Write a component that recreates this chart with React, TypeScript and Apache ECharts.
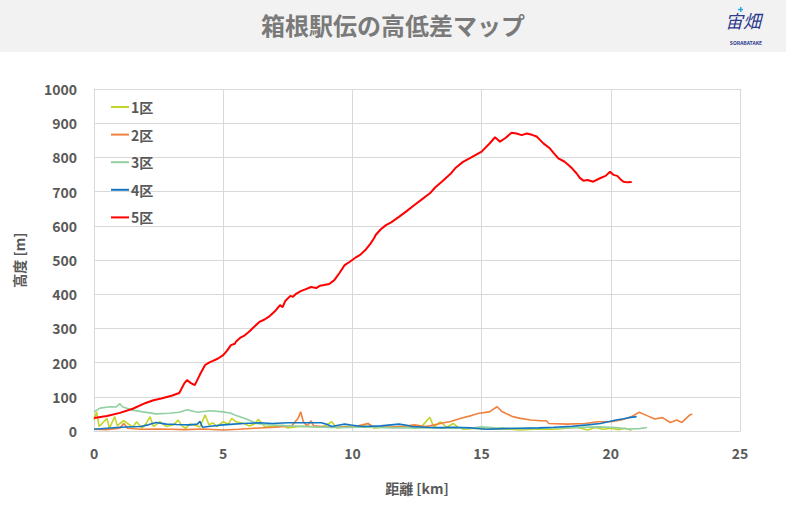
import React, { useEffect, useRef } from "react";
import * as echarts from "echarts";

const seriesNames = ["1区", "2区", "3区", "4区", "5区"];
const seriesColors = ["#c3d52b", "#f0813e", "#92d0a2", "#1275c4", "#ff0000"];

const xTicks = { min: 0, max: 25, interval: 5 };
const yTicks = { min: 0, max: 1000, interval: 100 };

const section1: number[][] = [
  [0, 32], [0.1, 56], [0.2, 13], [0.35, 25], [0.5, 37], [0.6, 8], [0.8, 42], [0.9, 15], [1.0, 22], [1.15, 30],
  [1.3, 22], [1.5, 12], [1.65, 27], [1.85, 8], [2.0, 20], [2.17, 42], [2.3, 13], [2.55, 27], [2.8, 13],
  [3.07, 18], [3.26, 32], [3.4, 15], [3.55, 8], [3.7, 20], [3.85, 18], [4.1, 12], [4.3, 47], [4.45, 18],
  [4.6, 24], [4.75, 13], [5.0, 27], [5.2, 20], [5.33, 37], [5.5, 27], [5.8, 22], [6.0, 15], [6.2, 20],
  [6.36, 34], [6.6, 13], [7.0, 12], [7.3, 17], [7.5, 9], [8.0, 14], [8.4, 13], [8.8, 12], [9.0, 18],
  [9.2, 27], [9.4, 9], [9.8, 14], [10.1, 11], [10.4, 15], [10.6, 22], [10.85, 8], [11.2, 12], [11.65, 11],
  [12.0, 14], [12.4, 8], [12.7, 15], [13.0, 40], [13.15, 11], [13.4, 27], [13.65, 11], [13.9, 22],
  [14.1, 10], [14.3, 5], [14.8, 8], [15.2, 5], [15.8, 7], [16.5, 3], [17.2, 6], [17.8, 5], [18.3, 8],
  [18.7, 11], [19.1, 3], [19.4, 10], [19.7, 5], [20.0, 8], [20.3, 4], [20.55, 8], [20.8, 2],
];

const section2: number[][] = [
  [0, 5], [0.5, 4], [1.0, 8], [1.15, 22], [1.3, 8], [1.8, 5], [2.5, 6], [3.0, 5], [3.5, 4], [4.2, 6],
  [5.0, 3], [5.6, 5], [6.2, 8], [7.0, 11], [7.65, 15], [7.9, 37], [8.0, 56], [8.1, 27], [8.25, 15],
  [8.4, 30], [8.5, 15], [9.2, 11], [10.1, 13], [10.6, 22], [10.8, 12], [11.3, 11], [12.0, 14],
  [12.4, 18], [12.8, 13], [13.0, 15], [13.4, 22], [13.8, 28], [14.2, 37], [14.6, 45], [14.9, 52],
  [15.3, 56], [15.6, 71], [15.8, 56], [16.2, 42], [16.5, 37], [16.9, 32], [17.3, 30], [17.5, 30],
  [17.6, 22], [18.3, 20], [19.0, 22], [19.5, 27], [20.0, 27], [20.4, 32], [20.8, 42], [21.1, 55],
  [21.4, 45], [21.7, 35], [22.0, 39], [22.3, 25], [22.55, 32], [22.75, 25], [23.06, 47], [23.15, 50],
];

const section3: number[][] = [
  [0, 56], [0.23, 67], [0.62, 71], [0.85, 70], [1.0, 80], [1.1, 71], [1.5, 61], [1.9, 56], [2.4, 50],
  [2.9, 52], [3.3, 55], [3.6, 62], [4.0, 55], [4.5, 59], [5.0, 56], [5.3, 52], [5.5, 45], [5.9, 35],
  [6.3, 22], [6.8, 18], [7.5, 15], [8.5, 12], [9.5, 10], [10.5, 12], [11.5, 9], [12.5, 10],
  [13.5, 8], [14.5, 8], [15.0, 12], [15.5, 9], [16.5, 7], [17.5, 8], [18.5, 10], [19.5, 12],
  [20.2, 10], [20.7, 6], [21.1, 7], [21.4, 10],
];

const section4: number[][] = [
  [0, 5], [0.5, 8], [1.0, 11], [1.8, 13], [2.1, 18], [2.4, 25], [2.8, 20], [3.2, 19], [3.7, 18],
  [4.0, 20], [4.1, 28], [4.2, 11], [4.5, 14], [5.0, 18], [5.4, 20], [5.8, 22], [6.4, 24], [6.9, 22],
  [7.5, 24], [8.2, 24], [8.8, 24], [9.0, 20], [9.2, 13], [9.45, 17], [9.7, 20], [10.0, 17],
  [10.4, 13], [11.1, 15], [11.5, 18], [11.8, 20], [12.1, 17], [12.3, 13], [12.8, 11], [13.4, 10],
  [13.9, 11], [14.6, 9], [15.2, 5], [15.8, 7], [16.5, 8], [17.2, 9], [17.8, 11], [18.5, 14],
  [19.1, 18], [19.6, 22], [20.2, 32], [20.5, 36], [20.7, 39], [21.0, 42],
];

const section5: number[][] = [
  [0, 38], [0.5, 44], [1, 53], [1.5, 65], [2, 82], [2.3, 90], [2.6, 95], [3, 103], [3.3, 111],
  [3.5, 140], [3.6, 149], [3.75, 140], [3.9, 134], [4.1, 165], [4.3, 193], [4.45, 200], [4.6, 205],
  [4.8, 212], [5, 222], [5.15, 235], [5.3, 251], [5.45, 255], [5.5, 262], [5.65, 272], [5.8, 278],
  [6, 290], [6.2, 305], [6.4, 319], [6.6, 326], [6.8, 336], [7, 350], [7.2, 368], [7.3, 362],
  [7.4, 380], [7.6, 395], [7.7, 392], [7.8, 400], [8.0, 409], [8.2, 415], [8.4, 421], [8.6, 418],
  [8.75, 425], [8.9, 427], [9.1, 430], [9.3, 441], [9.5, 462], [9.7, 485], [9.9, 495], [10.1, 506],
  [10.3, 515], [10.5, 529], [10.7, 548], [10.85, 565], [10.9, 573], [11.1, 590], [11.3, 602],
  [11.5, 610], [11.8, 626], [12.1, 643], [12.4, 661], [12.7, 678], [13.0, 695], [13.2, 712],
  [13.46, 729], [13.8, 752], [14.0, 770], [14.28, 787], [14.6, 800], [15.0, 817], [15.3, 840],
  [15.52, 859], [15.71, 846], [15.91, 856], [16.16, 872], [16.35, 870], [16.55, 865], [16.75, 870],
  [16.95, 866], [17.13, 861], [17.25, 852], [17.39, 841], [17.65, 826], [17.8, 812], [17.97, 797],
  [18.2, 788], [18.36, 778], [18.5, 768], [18.68, 753], [18.8, 740], [18.94, 732], [19.1, 734],
  [19.32, 729], [19.58, 739], [19.8, 746], [19.97, 758], [20.1, 749], [20.25, 746], [20.36, 737],
  [20.49, 729], [20.65, 727], [20.81, 728],
];

const seriesData = [section1, section2, section3, section4, section5];

const FONT = "'Noto Sans CJK JP', 'Noto Sans', sans-serif";
const GRID = "#d9d9d9";
const TEXT = "#595959";

export default function App() {
  const ref = useRef<HTMLDivElement>(null);
  useEffect(() => {
    document.body.style.margin = "0";
    if (!ref.current) return;
    const chart = echarts.init(ref.current, null, { renderer: "svg" });
    chart.setOption({
      animation: false,
      backgroundColor: "#ffffff",
      textStyle: { fontFamily: FONT },
      graphic: [
        { type: "rect", left: 0, top: 0, shape: { width: 786, height: 52 }, style: { fill: "#f2f2f2" }, z: -10 },
        {
          type: "text", left: "center", top: 12,
          style: { text: "箱根駅伝の高低差マップ", fill: "#7a7a7a", font: `bold 24px ${FONT}` },
        },
        {
          type: "text", x: 725, y: 11,
          style: { text: "宙畑", fill: "#2d3a8e", font: `italic 18px ${FONT}` },
        },
        { type: "rect", shape: { x: 740, y: 7, width: 1.5, height: 5 }, style: { fill: "#29abe2" } },
        { type: "rect", shape: { x: 738, y: 8.8, width: 5, height: 1.5 }, style: { fill: "#29abe2" } },
        {
          type: "text", x: 746, y: 40,
          style: { text: "SORABATAKE", fill: "#2d3a8e", font: `bold 5px ${FONT}`, align: "center" },
        },
      ],
      grid: { left: 94, right: 46, top: 89, bottom: 77 },
      legend: {
        orient: "vertical",
        left: 106,
        top: 95,
        icon: "rect",
        itemWidth: 18,
        itemHeight: 2,
        itemGap: 13.6,
        data: seriesNames,
        textStyle: { color: TEXT, fontSize: 14, fontWeight: "bold", fontFamily: FONT, padding: [0, 0, 0, -3] },
      },
      xAxis: {
        type: "value",
        min: xTicks.min,
        max: xTicks.max,
        interval: xTicks.interval,
        name: "距離 [km]",
        nameLocation: "middle",
        nameGap: 50,
        nameTextStyle: { color: TEXT, fontSize: 14, fontWeight: "bold", fontFamily: FONT },
        axisLine: { show: true, lineStyle: { color: GRID } },
        axisTick: { show: false },
        axisLabel: { color: TEXT, fontSize: 14, fontWeight: "bold", margin: 15, fontFamily: FONT },
        splitLine: { show: true, lineStyle: { color: GRID, width: 1 } },
      },
      yAxis: {
        type: "value",
        min: yTicks.min,
        max: yTicks.max,
        interval: yTicks.interval,
        name: "高度 [m]",
        nameLocation: "middle",
        nameGap: 68,
        nameRotate: 90,
        nameTextStyle: { color: TEXT, fontSize: 14, fontWeight: "bold", fontFamily: FONT },
        axisLine: { show: true, lineStyle: { color: GRID } },
        axisTick: { show: false },
        axisLabel: {
          color: TEXT, fontSize: 14, fontWeight: "bold", margin: 17, fontFamily: FONT,
          formatter: (v: number) => String(v),
        },
        splitLine: { show: true, lineStyle: { color: GRID, width: 1 } },
      },
      series: seriesNames.map((name, i) => ({
        name,
        type: "line",
        data: seriesData[i],
        showSymbol: false,
        symbol: "none",
        color: seriesColors[i],
        lineStyle: { color: seriesColors[i], width: i === 4 ? 2 : 1.6 },
        z: i === 4 ? 5 : 2 + (i === 3 ? 1 : 0),
      })),
    });
    return () => chart.dispose();
  }, []);
  return <div ref={ref} style={{ width: 786, height: 508 }} />;
}
